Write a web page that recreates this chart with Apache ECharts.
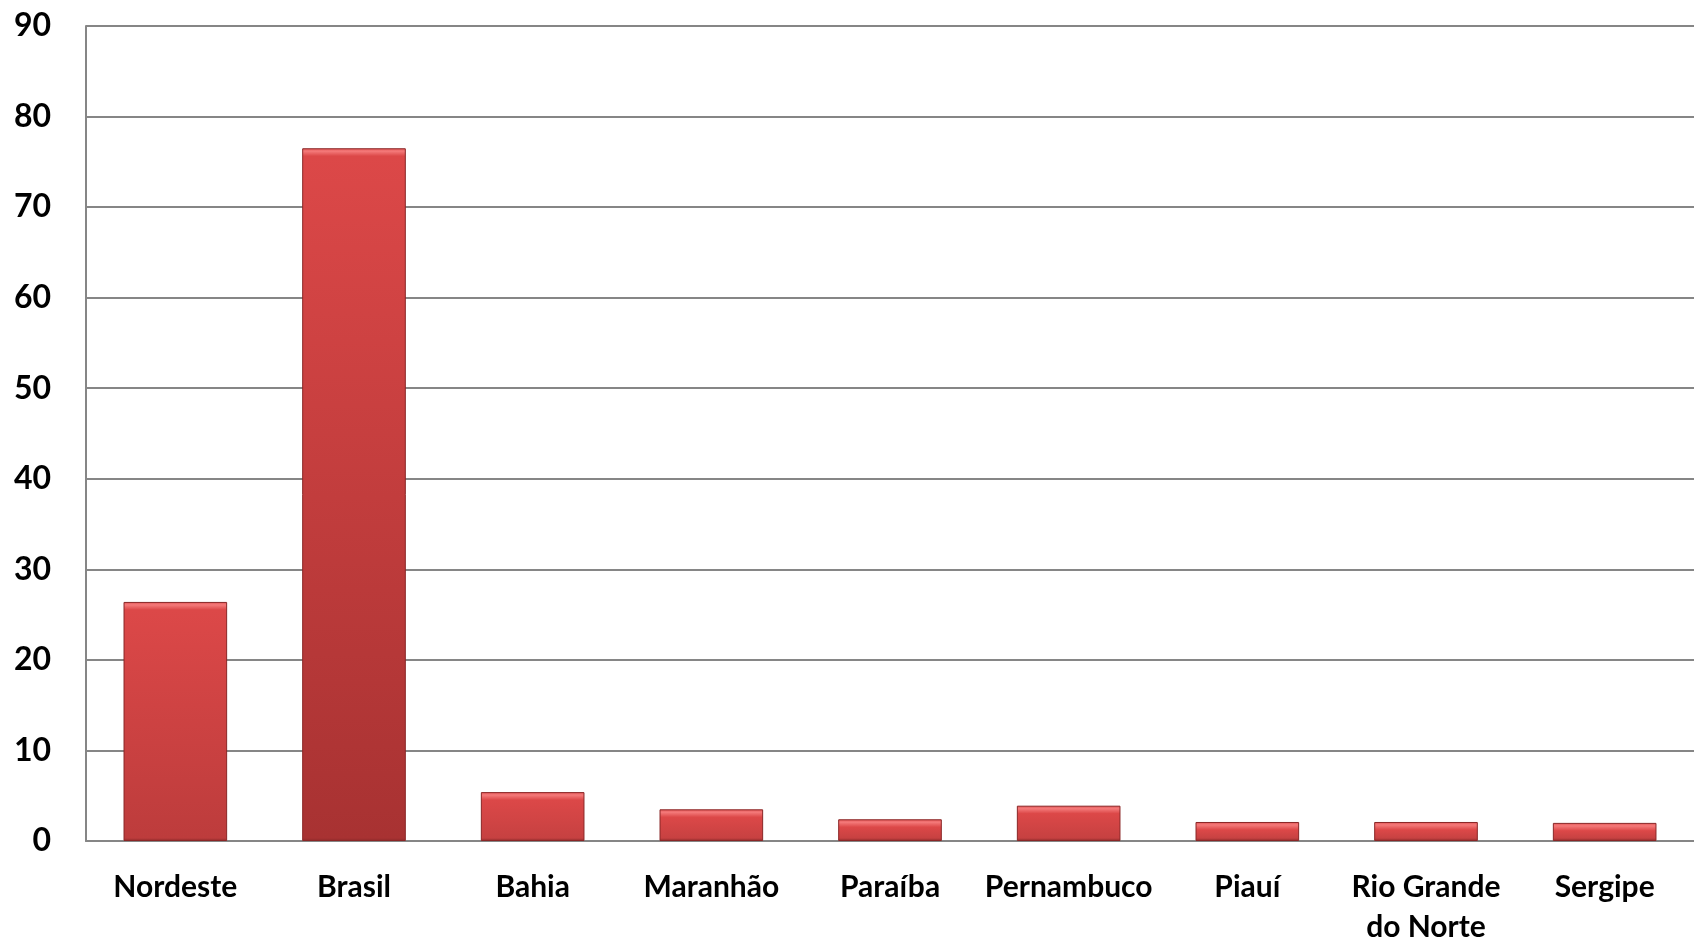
<!DOCTYPE html>
<html><head><meta charset="utf-8">
<script src="https://cdn.jsdelivr.net/npm/echarts@6/dist/echarts.min.js"></script>
<style>html,body{margin:0;padding:0;background:#fff}#c{width:1694px;height:947px}</style>
</head><body><div id="c"></div>
<script>
const categories = ["Nordeste","Brasil","Bahia","Maranhão","Paraíba","Pernambuco","Piauí","Rio Grande do Norte","Sergipe"];
const values = [26.4, 76.5, 5.4, 3.5, 2.4, 3.9, 2.1, 2.1, 2.0];
const yTicks = [0,10,20,30,40,50,60,70,80,90];

const chart = echarts.init(document.getElementById('c'), null, {renderer:'canvas'});
const font = 'Lato, "Open Sans", sans-serif';
const gridTop = 26, gridBottom = 94, plotH = 947 - gridTop - gridBottom;
const yMax = yTicks[yTicks.length-1];

function barStyle(v){
  const h = Math.max(v / yMax * plotH, 1);
  const b1 = Math.min(3 / h, 0.3), b2 = Math.min(8 / h, 0.45), bd = Math.max(1 - 3 / h, 0.6);
  const tall = Math.min(h / 700, 1);
  const mix = (a, c, t) => Math.round(a + (c - a) * t);
  const bot = 'rgb(' + mix(200,168,tall) + ',' + mix(66,50,tall) + ',' + mix(66,50,tall) + ')';
  return {
    borderColor:'#8a2626', borderWidth:1,
    color:{type:'linear', x:0,y:0,x2:0,y2:1, colorStops:[
      {offset:0, color:'#e25252'},
      {offset:b1, color:'#f47a7a'},
      {offset:b2, color:'#dc4848'},
      {offset:bd, color:bot},
      {offset:1, color:'#8e2a2a'}
    ]}
  };
}

chart.setOption({
  animation:false,
  grid:{left:86, top:gridTop, width:1620, bottom:gridBottom, containLabel:false},
  xAxis:{
    type:'category', data:categories,
    axisLine:{show:true, lineStyle:{color:'#868686', width:2}},
    axisTick:{show:false},
    axisLabel:{color:'#000', fontFamily:font, fontWeight:'bold', fontSize:30, margin:26, lineHeight:40,
      interval:0, formatter:v=>v.replace(' do ', '\ndo ')}
  },
  yAxis:{
    type:'value', min:yTicks[0], max:yMax, interval:10,
    axisLine:{show:true, lineStyle:{color:'#868686', width:2}},
    axisTick:{show:false},
    splitLine:{lineStyle:{color:'#868686', width:2}},
    axisLabel:{color:'#000', fontFamily:font, fontWeight:'bold', fontSize:32, margin:35}
  },
  series:[{
    type:'bar', barWidth:'58%',
    data: values.map(v => ({value:v, itemStyle:barStyle(v)}))
  }]
});
</script></body></html>
